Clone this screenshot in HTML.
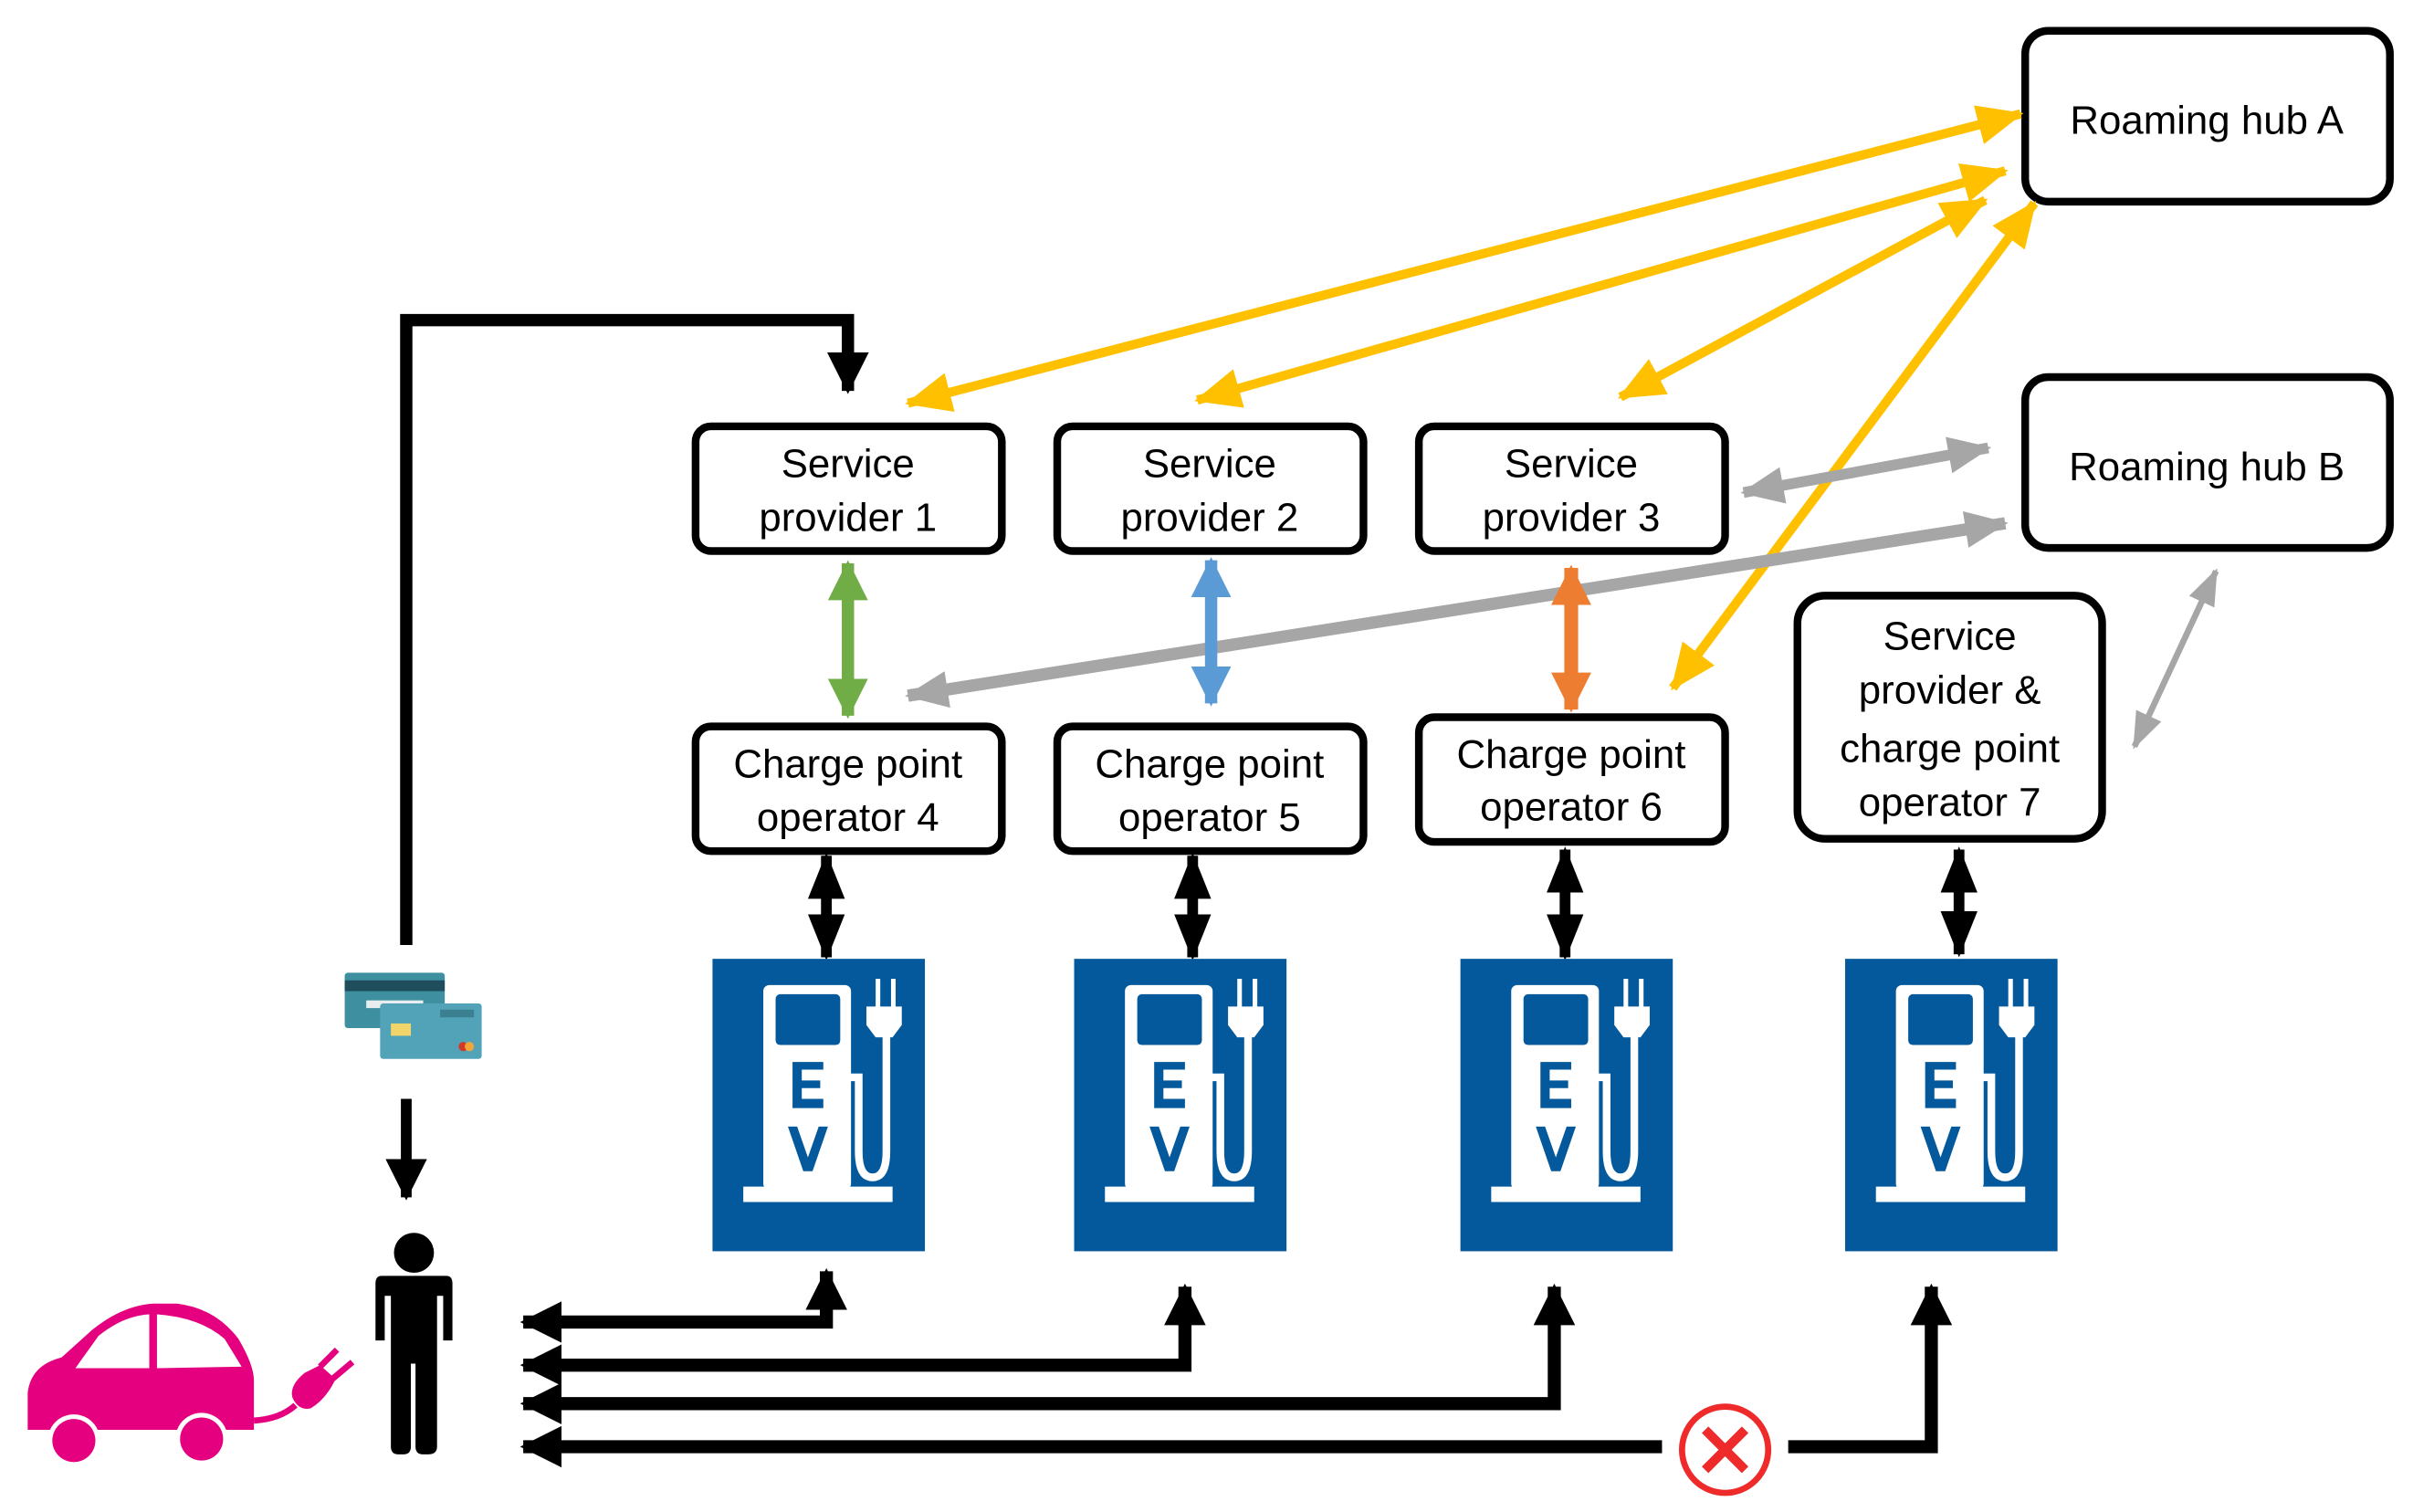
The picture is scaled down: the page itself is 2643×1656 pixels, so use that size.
<!DOCTYPE html>
<html><head><meta charset="utf-8"><style>html,body{margin:0;padding:0;background:#fff}svg{display:block}text{font-family:"Liberation Sans",sans-serif;font-size:26px;fill:#000;text-anchor:middle}</style></head>
<body>
<svg width="2643" height="1656" viewBox="0 0 1568 982.4" xmlns="http://www.w3.org/2000/svg">
<defs>
<marker id="my" markerUnits="userSpaceOnUse" markerWidth="30" markerHeight="26" refX="28" refY="13" orient="auto-start-reverse"><path d="M0,0 L30,13 L0,26 z" fill="#FFC000"/></marker>
<marker id="mg" markerUnits="userSpaceOnUse" markerWidth="28" markerHeight="24" refX="26" refY="12" orient="auto-start-reverse"><path d="M0,0 L28,12 L0,24 z" fill="#A6A6A6"/></marker>
<marker id="mgs" markerUnits="userSpaceOnUse" markerWidth="24" markerHeight="18" refX="22" refY="9" orient="auto-start-reverse"><path d="M0,0 L24,9 L0,18 z" fill="#A6A6A6"/></marker>
<marker id="mgr" markerUnits="userSpaceOnUse" markerWidth="26" markerHeight="26" refX="24" refY="13" orient="auto-start-reverse"><path d="M0,0 L26,13 L0,26 z" fill="#70AD47"/></marker>
<marker id="mb" markerUnits="userSpaceOnUse" markerWidth="26" markerHeight="26" refX="24" refY="13" orient="auto-start-reverse"><path d="M0,0 L26,13 L0,26 z" fill="#5B9BD5"/></marker>
<marker id="mo" markerUnits="userSpaceOnUse" markerWidth="26" markerHeight="26" refX="24" refY="13" orient="auto-start-reverse"><path d="M0,0 L26,13 L0,26 z" fill="#ED7D31"/></marker>
<marker id="mk" markerUnits="userSpaceOnUse" markerWidth="30" markerHeight="24" refX="28" refY="12" orient="auto-start-reverse"><path d="M0,0 L30,12 L0,24 z" fill="#000"/></marker>
<marker id="mkb" markerUnits="userSpaceOnUse" markerWidth="27" markerHeight="27" refX="25" refY="13.5" orient="auto-start-reverse"><path d="M0,0 L27,13.5 L0,27 z" fill="#000"/></marker>
<g id="ev">
<rect x="0" y="0" width="138" height="190" fill="#03599C"/>
<rect x="33" y="17" width="57" height="133" rx="4" fill="#fff"/>
<rect x="41" y="23" width="42" height="33" rx="3" fill="#03599C"/>
<path d="M52,67 h20 v5 h-14 v7 h12 v5 h-12 v7 h14 v6 h-20 z" fill="#03599C"/>
<path d="M49,109 h6 l7,20 l7,-20 h6 l-10,29 h-6 z" fill="#03599C"/>
<rect x="20" y="148" width="97" height="10" fill="#fff"/>
<path d="M88,77 H95 V125 Q95,142 104,142 Q113,142 113,125 V47" fill="none" stroke="#fff" stroke-width="5"/>
<path d="M100,31 h23 v12 l-6,8 h-11 l-6,-8 z" fill="#fff"/>
<rect x="106" y="13" width="3" height="19" fill="#fff"/>
<rect x="116" y="13" width="3" height="19" fill="#fff"/>
</g>
</defs>

<g fill="#fff" stroke="#000" stroke-width="5">
<rect x="1316" y="20" width="237" height="111" rx="15"/>
<rect x="1316" y="245" width="237" height="111" rx="15"/>
<rect x="452" y="277" width="199" height="81" rx="10"/>
<rect x="687" y="277" width="199" height="81" rx="10"/>
<rect x="922" y="277" width="199" height="81" rx="10"/>
<rect x="452" y="472" width="199" height="81" rx="10"/>
<rect x="687" y="472" width="199" height="81" rx="10"/>
<rect x="922" y="466" width="199" height="81" rx="10"/>
<rect x="1168" y="387" width="198" height="158" rx="18"/>
</g>
<text x="1434" y="87">Roaming hub A</text>
<text x="1434" y="312">Roaming hub B</text>
<text x="551" y="310">Service</text><text x="551" y="345">provider 1</text>
<text x="786" y="310">Service</text><text x="786" y="345">provider 2</text>
<text x="1021" y="310">Service</text><text x="1021" y="345">provider 3</text>
<text x="551" y="505">Charge point</text><text x="551" y="540">operator 4</text>
<text x="786" y="505">Charge point</text><text x="786" y="540">operator 5</text>
<text x="1021" y="499">Charge point</text><text x="1021" y="533">operator 6</text>
<text x="1267" y="422">Service</text><text x="1267" y="457">provider &amp;</text><text x="1267" y="495">charge point</text><text x="1267" y="530">operator 7</text>

<g stroke="#FFC000" stroke-width="6" fill="none">
<line x1="590" y1="262" x2="1313" y2="74" marker-start="url(#my)" marker-end="url(#my)"/>
<line x1="778" y1="260" x2="1303" y2="111" marker-start="url(#my)" marker-end="url(#my)"/>
<line x1="1053" y1="258" x2="1290" y2="130" marker-start="url(#my)" marker-end="url(#my)"/>
<line x1="1087" y1="447" x2="1322" y2="132" marker-start="url(#my)" marker-end="url(#my)"/>
</g>
<g stroke="#A6A6A6" fill="none">
<line x1="1133" y1="320" x2="1292" y2="291" stroke-width="7" marker-start="url(#mg)" marker-end="url(#mg)"/>
<line x1="590" y1="452" x2="1303" y2="340" stroke-width="8" marker-start="url(#mg)" marker-end="url(#mg)"/>
<line x1="1387" y1="485" x2="1440" y2="371" stroke-width="4" marker-start="url(#mgs)" marker-end="url(#mgs)"/>
</g>
<line x1="551" y1="366" x2="551" y2="465" stroke="#70AD47" stroke-width="8" marker-start="url(#mgr)" marker-end="url(#mgr)"/>
<line x1="787" y1="364" x2="787" y2="457" stroke="#5B9BD5" stroke-width="8" marker-start="url(#mb)" marker-end="url(#mb)"/>
<line x1="1021" y1="369" x2="1021" y2="461" stroke="#ED7D31" stroke-width="9" marker-start="url(#mo)" marker-end="url(#mo)"/>
<g stroke="#000" stroke-width="7">
<line x1="537" y1="556" x2="537" y2="622" marker-start="url(#mk)" marker-end="url(#mk)"/>
<line x1="775" y1="556" x2="775" y2="622" marker-start="url(#mk)" marker-end="url(#mk)"/>
<line x1="1017" y1="552" x2="1017" y2="622" marker-start="url(#mk)" marker-end="url(#mk)"/>
<line x1="1273" y1="552" x2="1273" y2="620" marker-start="url(#mk)" marker-end="url(#mk)"/>
</g>
<path d="M264,614 V208 H551 V254" fill="none" stroke="#000" stroke-width="8" marker-end="url(#mkb)"/>
<line x1="264" y1="714" x2="264" y2="778" stroke="#000" stroke-width="7" marker-end="url(#mkb)"/>

<use href="#ev" x="463" y="623"/>
<use href="#ev" x="698" y="623"/>
<use href="#ev" x="949" y="623"/>
<use href="#ev" x="1199" y="623"/>

<g fill="none" stroke="#000" stroke-width="8.5">
<path d="M537,826 V859 H340" marker-start="url(#mkb)" marker-end="url(#mkb)"/>
<path d="M770,836 V887 H340" marker-start="url(#mkb)" marker-end="url(#mkb)"/>
<path d="M1010,836 V912 H340" marker-start="url(#mkb)" marker-end="url(#mkb)"/>
<path d="M1255,836 V940 H1162" marker-start="url(#mkb)"/>
<path d="M1080,940 H340" marker-end="url(#mkb)"/>
</g>
<circle cx="1121" cy="942" r="28" fill="#fff" stroke="#EE2A2A" stroke-width="4"/>
<path d="M1108,929 L1134,955 M1134,929 L1108,955" stroke="#EE2A2A" stroke-width="6"/>

<rect x="224" y="632" width="65" height="36" rx="2" fill="#3E8FA0"/>
<rect x="224" y="637" width="65" height="7" fill="#1F4D5C"/>
<rect x="238" y="650" width="37" height="5" fill="#e8eef0"/>
<rect x="247" y="652" width="66" height="36" rx="2" fill="#52A3B8"/>
<rect x="254" y="665" width="13" height="8" fill="#F1D56B"/>
<rect x="286" y="656" width="22" height="5" fill="#3A8091"/>
<circle cx="301" cy="680" r="3" fill="#D03A2A"/><circle cx="305" cy="680" r="3" fill="#F2A53A"/>

<circle cx="269" cy="814" r="13" fill="#000"/>
<path d="M248,829 H290 Q294,829 294,834 V871 H288 V842 H284 V940 Q284,945 278,945 H275 Q270,945 270,940 V886 H267 V940 Q267,945 262,945 H259 Q254,945 254,940 V842 H250 V871 H244 V834 Q244,829 248,829 z" fill="#000"/>

<g transform="translate(0,12)">
<path d="M18,917 V893 Q20,875 40,870 L60,852 Q80,836 100,835 L115,835 Q140,838 155,858 Q165,875 165,885 V917 z" fill="#E4007F"/>
<path d="M49,877 L64,856 Q80,843 97,842 V877 z M102,842 Q130,844 146,858 L157,876 L102,877 z" fill="#fff"/>
<circle cx="48" cy="924" r="17" fill="#fff"/><circle cx="48" cy="924" r="14" fill="#E4007F"/>
<circle cx="131" cy="923" r="17" fill="#fff"/><circle cx="131" cy="923" r="14" fill="#E4007F"/>
<path d="M165,911 Q182,910 192,901" stroke="#E4007F" stroke-width="4" fill="none"/>
<path d="M190,896 Q188,888 198,880 L208,875 L218,884 Q212,897 202,903 Q194,905 190,896 z" fill="#E4007F"/>
<path d="M208,876 L219,865 M216,884 L229,873" stroke="#E4007F" stroke-width="4"/>
</g>
</svg>
</body></html>
